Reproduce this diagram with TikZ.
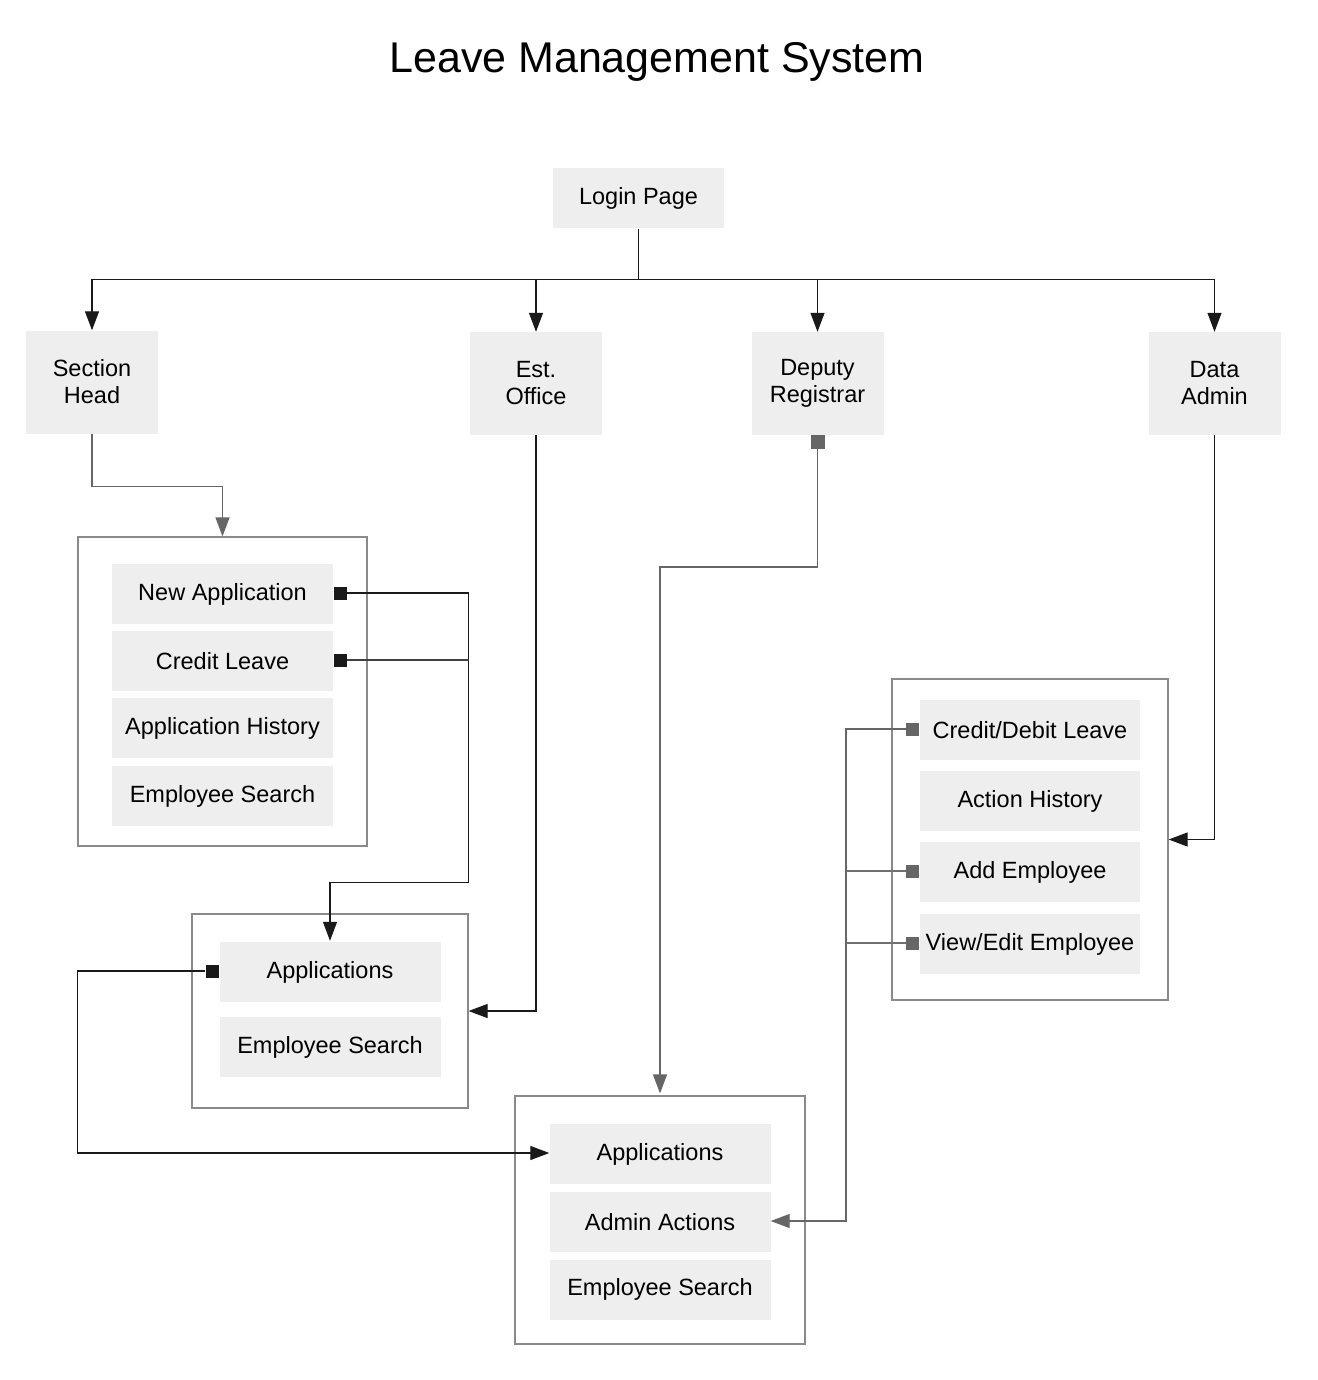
\documentclass[tikz,border=0pt]{standalone}
\usepackage{fontspec}
\setmainfont{Liberation Sans}
\usetikzlibrary{arrows.meta}
\definecolor{boxgray}{HTML}{EEEEEE}
\definecolor{framegray}{HTML}{8A8A8A}
\definecolor{linegray}{HTML}{707070}
\definecolor{sqgray}{HTML}{666666}
\definecolor{lineblack}{HTML}{1A1A1A}
\tikzset{
  item/.style={fill=boxgray, inner sep=0pt, align=center, text=black,
    font=\fontsize{23.5}{27}\selectfont},
  topbox/.style={item, minimum width=132pt, minimum height=103pt},
  listbox/.style={item, minimum width=221pt, minimum height=60pt},
  frame/.style={draw=framegray, line width=1.2pt, fill=white, inner sep=0pt},
  sqblack/.style={fill=black!90, inner sep=0pt, minimum size=13pt},
  sqg/.style={fill=sqgray, inner sep=0pt, minimum size=13pt},
  bline/.style={draw=lineblack, line width=1.2pt},
  gline/.style={draw=linegray, line width=1.2pt},
  barrow/.style={bline, -{Triangle[length=19pt,width=14pt]}},
  garrow/.style={draw=sqgray, line width=1.2pt, -{Triangle[length=19pt,width=14pt]}},
}
\begin{document}
\begin{tikzpicture}[x=1pt,y=-1pt]
\useasboundingbox[fill=white] (0,0) rectangle (1317,1380);

\node[font=\fontsize{43}{48}\selectfont] (title) at (657,62) {Leave Management System};

% top level
\node[item, minimum width=171pt, minimum height=60pt] (login) at (638.5,198.5) {Login Page};
\node[topbox] (sh) at (92,382) {Section\\Head};
\node[topbox] (eo) at (536,383.5) {Est.\\Office};
\node[topbox] (dr) at (817.5,383.5) {Deputy\\Registrar};
\node[topbox] (da) at (1214.5,383.5) {Data\\Admin};

% containers
\node[frame, minimum width=289pt, minimum height=309pt] (c1) at (222.5,691.5) {};
\node[frame, minimum width=276pt, minimum height=194pt] (c2) at (330,1011) {};
\node[frame, minimum width=290pt, minimum height=248pt] (c3) at (660,1220) {};
\node[frame, minimum width=276pt, minimum height=321pt] (c4) at (1030,839.5) {};

% container 1
\node[listbox] (na) at (222.5,594) {New Application};
\node[listbox] (cl) at (222.5,661) {Credit Leave};
\node[listbox] (ah) at (222.5,728) {Application History};
\node[listbox] (es1) at (222.5,796) {Employee Search};

% container 2
\node[listbox] (ap2) at (330,972) {Applications};
\node[listbox] (es2) at (330,1047) {Employee Search};

% container 3
\node[listbox] (ap3) at (660,1154) {Applications};
\node[listbox] (aa) at (660,1222) {Admin Actions};
\node[listbox] (es3) at (660,1289.5) {Employee Search};

% container 4
\node[listbox, minimum width=220pt] (cd) at (1030,730) {Credit/Debit Leave};
\node[listbox, minimum width=220pt] (ach) at (1030,801) {Action History};
\node[listbox, minimum width=220pt] (ae) at (1030,872) {Add Employee};
\node[listbox, minimum width=220pt] (ve) at (1030,944) {View/Edit Employee};

% squares
\node[sqblack] (sqA) at (340,593) {};
\node[sqblack] (sqB) at (340,660) {};
\node[sqblack] (sqC) at (212,971) {};
\node[sqg, minimum size=14pt] (sqD) at (817.5,442) {};
\node[sqg] (sqE) at (912.5,729) {};
\node[sqg] (sqF) at (912.5,871) {};
\node[sqg] (sqG) at (912.5,943) {};

% login connectors
\draw[bline] (login.south) -- ++(0,-51pt) coordinate (j);
\draw[barrow] (j) -| (sh.north);
\draw[barrow] (j) -| (eo.north);
\draw[barrow] (j) -| (dr.north);
\draw[barrow] (j) -| (da.north);

% section head -> container 1
\draw[garrow] (sh.south) -- ++(0,-53pt) -| (c1.north);

% new application / credit leave -> applications (c2)
\draw[barrow] (sqA.east) -| ([yshift=31pt]c2.north east) -| ([yshift=1pt]ap2.north);
\draw[gline, draw=black!75] (sqB.east) -- (sqB.east -| c2.east);

% est office -> c2
\draw[barrow] (eo.south) |- (c2.east);

% applications (c2) -> applications (c3)
\draw[barrow] (sqC.west) -| (c1.west |- sqC.west |- 0,1153) -- ([yshift=1pt]ap3.west);

% deputy registrar -> c3
\coordinate (drbend) at (660,567);
\draw[garrow] (sqD.south) |- (drbend) -- ([yshift=2pt]c3.north);

% data admin -> c4
\draw[barrow] (da.south) |- (c4.east);

% container 4 -> admin actions
\coordinate (bus) at (846,729);
\draw[garrow] (sqE.west) -| (bus |- 0,1221) -- ([yshift=1pt]aa.east);
\draw[gline] (sqF.west) -- (sqF.west -| bus);
\draw[gline] (sqG.west) -- (sqG.west -| bus);
\end{tikzpicture}
\end{document}
